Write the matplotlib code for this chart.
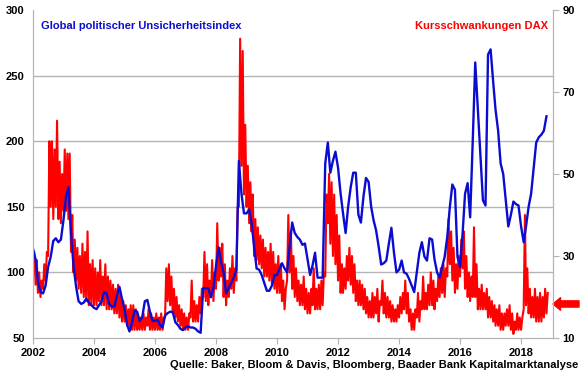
import matplotlib
matplotlib.use("Agg")
import matplotlib.pyplot as plt
import matplotlib.dates as mdates
from matplotlib.ticker import FixedLocator
import numpy as np
import pandas as pd

plt.rcParams['font.family'] = ['Liberation Sans', 'DejaVu Sans']
plt.rcParams['font.weight'] = 'bold'

# Global EPU index, monthly, Jan 2002 - Nov 2018 (left axis)
epu = [
    118, 110, 93, 85, 84, 90, 104, 112, 124, 126, 123, 125,   # 2002
    140, 158, 165, 130, 105, 89, 78, 76, 77, 80, 77, 75,      # 2003
    73, 72, 75, 78, 85, 84, 76, 74, 74, 82, 89, 80,           # 2004
    72, 60, 55, 62, 71, 70, 63, 66, 78, 79, 70, 63,           # 2005
    63, 64, 60, 58, 67, 69, 70, 70, 62, 60, 57, 56,           # 2006
    58, 59, 58, 58, 57, 55, 54, 88, 88, 88, 81, 88,           # 2007
    105, 119, 108, 100, 84, 88, 92, 96, 102, 185, 160, 145,   # 2008
    145, 148, 138, 120, 103, 102, 98, 92, 86, 86, 90, 98,     # 2009
    98, 103, 107, 103, 100, 120, 138, 130, 127, 125, 121, 122,  # 2010
    110, 98, 105, 115, 96, 96, 96, 183, 199, 176, 185, 192,   # 2011
    180, 160, 145, 130, 150, 165, 176, 176, 144, 138, 158, 172,  # 2012
    169, 150, 140, 132, 120, 106, 107, 109, 122, 134, 115, 100,  # 2013
    102, 109, 100, 99, 95, 90, 85, 100, 115, 123, 112, 109,   # 2014
    126, 125, 110, 100, 96, 104, 112, 127, 150, 167, 163, 112,  # 2015
    104, 130, 160, 168, 142, 200, 260, 225, 190, 155, 151, 266,  # 2016
    270, 245, 224, 208, 183, 175, 155, 135, 144, 154, 152, 151,  # 2017
    135, 123, 135, 150, 160, 180, 199, 203, 205, 208, 219,    # 2018
]

# DAX volatility, monthly low / high (right axis)
dax_lo = [
    26, 23, 21, 20, 22, 24, 30, 42, 39, 42, 39, 38,
    41, 41, 39, 31, 26, 24, 22, 21, 20, 19, 18, 18,
    18, 18, 19, 18, 18, 17, 17, 17, 16, 16, 15, 14,
    14, 13, 13, 12, 12, 12, 12, 12, 12, 13, 12, 12,
    12, 12, 12, 12, 15, 19, 18, 16, 15, 14, 13, 12,
    12, 12, 15, 14, 14, 14, 16, 20, 19, 18, 20, 19,
    22, 24, 25, 20, 18, 20, 22, 21, 24, 42, 52, 45,
    42, 38, 36, 30, 29, 28, 27, 25, 25, 24, 23, 22,
    21, 21, 19, 17, 24, 26, 22, 20, 19, 18, 18, 17,
    16, 16, 18, 17, 17, 17, 18, 25, 38, 33, 30, 28,
    24, 21, 21, 22, 24, 23, 21, 19, 18, 18, 17, 16,
    15, 15, 15, 16, 14, 18, 16, 15, 15, 14, 14, 14,
    15, 16, 17, 16, 14, 12, 12, 15, 14, 17, 17, 17,
    18, 18, 17, 19, 20, 21, 20, 25, 28, 24, 21, 22,
    25, 27, 22, 20, 19, 20, 20, 17, 17, 17, 17, 15,
    15, 14, 13, 13, 12, 12, 13, 13, 12, 11, 12, 12,
    12, 17, 18, 16, 15, 15, 14, 14, 14, 15, 16,
]
dax_hi = [
    31, 29, 26, 24, 28, 31, 58, 58, 56, 63, 53, 50,
    56, 55, 55, 40, 34, 32, 30, 33, 31, 36, 28, 29,
    27, 26, 29, 25, 28, 25, 24, 23, 22, 23, 21, 19,
    18, 17, 18, 18, 17, 15, 15, 16, 15, 17, 16, 15,
    16, 15, 16, 15, 27, 28, 25, 22, 20, 18, 17, 16,
    15, 16, 24, 19, 18, 20, 22, 31, 28, 24, 29, 26,
    38, 32, 33, 28, 24, 27, 30, 27, 42, 83, 80, 62,
    52, 48, 45, 39, 37, 35, 34, 32, 31, 33, 31, 28,
    30, 28, 24, 22, 40, 36, 30, 27, 24, 23, 25, 22,
    21, 22, 27, 22, 23, 24, 26, 45, 50, 48, 45, 40,
    35, 28, 27, 30, 32, 30, 28, 24, 24, 23, 22, 20,
    19, 21, 20, 22, 19, 24, 21, 20, 19, 18, 17, 18,
    20, 21, 24, 21, 17, 16, 17, 21, 19, 25, 21, 23,
    26, 24, 22, 25, 27, 28, 27, 39, 36, 32, 28, 30,
    34, 36, 30, 26, 25, 37, 28, 22, 23, 21, 22, 20,
    19, 18, 17, 18, 16, 16, 17, 18, 16, 14, 16, 15,
    15, 40, 27, 22, 20, 22, 20, 21, 20, 22, 21,
]
dax_now = 18.3

left_ticks = [50, 100, 150, 200, 250, 300]
right_ticks = [10, 30, 50, 70, 90]
year_ticks = list(range(2002, 2019, 2))

months = pd.date_range("2002-01-01", periods=len(epu), freq="MS")
# two readings per month: low at the start, high mid-month
red_dates = []
red_vals = []
for d, lo, hi in zip(months, dax_lo, dax_hi):
    red_dates += [d, d + pd.Timedelta(days=15)]
    red_vals += [lo, hi]

blue = '#0c0cd0'
red = '#ff0000'
grey = '#b4b4b4'

fig = plt.figure(figsize=(5.8, 3.75), dpi=100)
ax = fig.add_axes([33 / 580, 1 - 338 / 375, 520 / 580, 328 / 375])
ax2 = ax.twinx()
ax.set_zorder(ax2.get_zorder() + 1)
ax.patch.set_visible(False)

ax2.plot(red_dates, red_vals, color=red, lw=1.5)
ax.plot(months, epu, color=blue, lw=1.7)

ax.set_ylim(50, 300)
ax2.set_ylim(10, 90)
ax.set_xlim(pd.Timestamp("2002-01-01"), pd.Timestamp("2019-01-18"))

ax.set_yticks(left_ticks)
ax2.set_yticks(right_ticks)
ax.set_xticks([pd.Timestamp(f"{y}-01-01") for y in year_ticks])
ax.xaxis.set_major_formatter(mdates.DateFormatter('%Y'))

# gridlines at the left ticks, drawn in the lower axes so they sit under the lines
conv = [10 + (v - 50) * 80 / 250 for v in left_ticks[1:]]
ax2.yaxis.set_minor_locator(FixedLocator(conv))
ax2.grid(True, which='minor', axis='y', color=grey, lw=1)
ax2.tick_params(axis='y', which='minor', length=0)

for a in (ax, ax2):
    for s in a.spines.values():
        s.set_color(grey)
    a.spines['top'].set_visible(False)

ax.tick_params(axis='y', length=0, pad=6, labelsize=8)
ax.tick_params(axis='x', length=4, color=grey, pad=3, labelsize=8)
ax2.tick_params(axis='y', which='major', length=4, color=grey, pad=3, labelsize=8)

ax.text(0.015, 0.965, "Global politischer Unsicherheitsindex", transform=ax.transAxes,
        color=blue, fontsize=8, fontweight='bold', va='top', ha='left')
ax.text(0.99, 0.965, "Kursschwankungen DAX", transform=ax.transAxes,
        color=red, fontsize=8, fontweight='bold', va='top', ha='right')

fig.text(0.997, 0.012, "Quelle: Baker, Bloom & Davis, Bloomberg, Baader Bank Kapitalmarktanalyse",
         ha='right', va='bottom', fontsize=8, fontweight='bold')

ax2.annotate("", xy=(1.0, dax_now), xycoords=('axes fraction', 'data'),
             xytext=(1.05, dax_now), textcoords=('axes fraction', 'data'),
             arrowprops=dict(arrowstyle='simple,head_length=0.6,head_width=1.0,tail_width=0.5',
                             color=red, mutation_scale=9, shrinkA=0, shrinkB=0),
             annotation_clip=False)

fig.savefig("out.png", dpi=100)
